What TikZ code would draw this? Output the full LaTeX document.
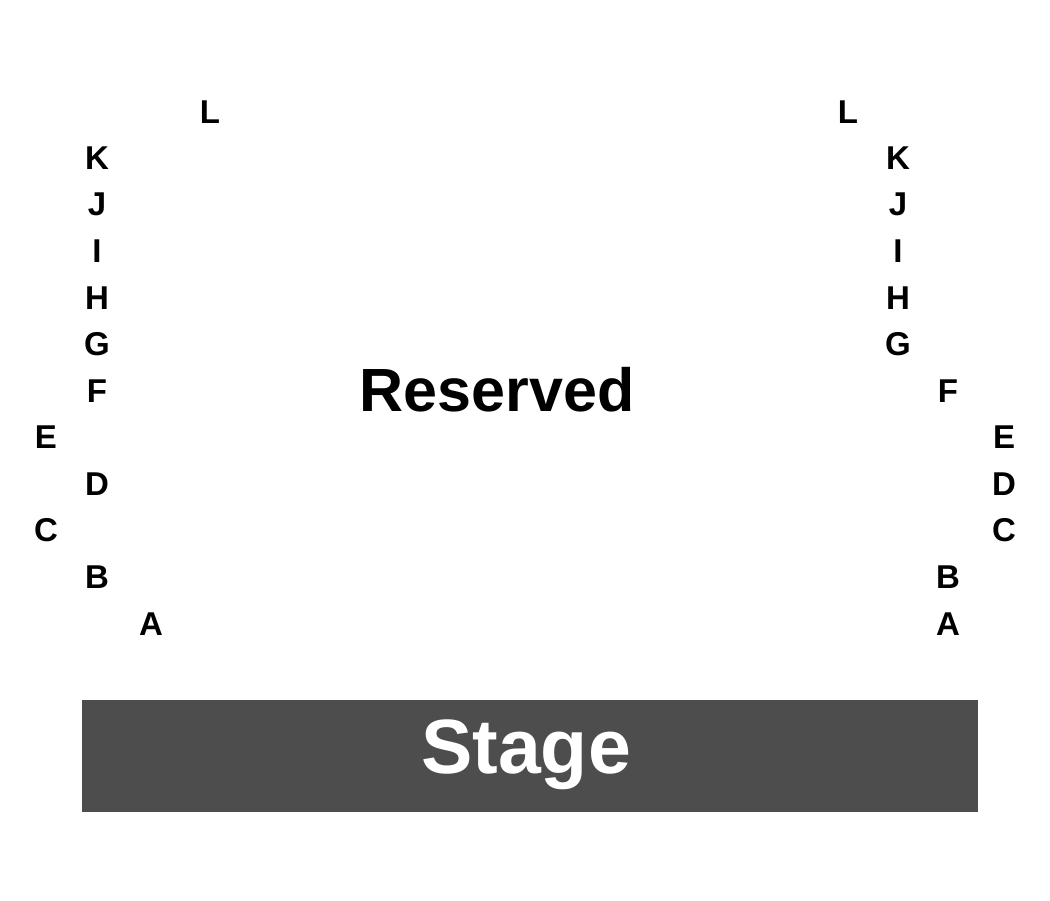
\documentclass[tikz,border=0pt]{standalone}
\usepackage{fontspec}
\setmainfont{Liberation Sans}
\begin{document}
\begin{tikzpicture}[x=1pt,y=-1pt,
  rowlbl/.style={font=\bfseries\fontsize{33}{33}\selectfont,inner sep=0pt,anchor=center},
  big/.style={font=\bfseries\fontsize{61}{61}\selectfont,inner sep=0pt,anchor=center}]
\useasboundingbox (0,0) rectangle (1050,900);
\fill[fill=white] (0,0) rectangle (1050,900);
\node[draw=none,fill={rgb,255:red,77;green,77;blue,77},minimum width=896pt,minimum height=112pt,inner sep=0pt] (stage) at (530,756) {};
\node[big,text=white,font=\bfseries\fontsize{77}{77}\selectfont] (stagetxt) at (526,755) {Stage};
\node[big] (res) at (497,390) {Reserved};
\foreach \t/\x/\y/\n in {L/210/112/lL,K/97/158/lK,J/97/204/lJ,I/97/251/lI,H/97/298/lH,G/97/344/lG,F/97/391/lF,E/46/437/lE,D/97/484/lD,C/46/530/lC,B/97/577/lB,A/151/624/lA,
 L/848/112/rL,K/898/158/rK,J/898/204/rJ,I/898/251/rI,H/898/298/rH,G/898/344/rG,F/948/391/rF,E/1004/437/rE,D/1004/484/rD,C/1004/530/rC,B/948/577/rB,A/948/624/rA}
  \node[rowlbl] (\n) at (\x,\y) {\t};
\end{tikzpicture}
\end{document}
